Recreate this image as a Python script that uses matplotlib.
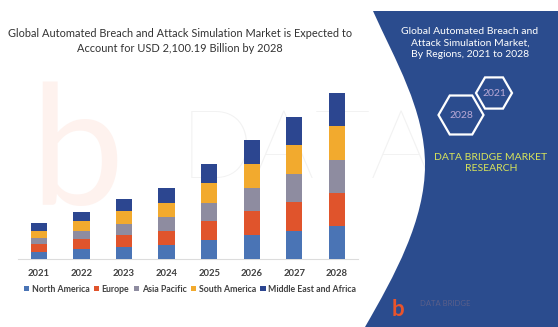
import numpy as np
import matplotlib
matplotlib.use("Agg")
import matplotlib.pyplot as plt
from matplotlib.path import Path
from matplotlib.patches import PathPatch, RegularPolygon

plt.rcParams['font.family'] = ['Lato', 'DejaVu Sans']

# data (USD billion)
years = ['2021', '2022', '2023', '2024', '2025', '2026', '2027', '2028']
regions = ['North America', 'Europe', 'Asia Pacific', 'South America', 'Middle East and Africa']
north_america = [96.6, 126.0, 151.2, 180.6, 243.6, 302.4, 357.0, 420.0]
europe = [92.4, 126.0, 155.4, 176.4, 239.4, 302.4, 361.2, 420.0]
asia_pacific = [79.8, 105.0, 138.6, 180.6, 231.0, 298.2, 357.0, 411.6]
south_america = [92.4, 121.8, 159.6, 176.4, 243.6, 294.0, 365.4, 428.4]
middle_east_africa = [92.4, 121.8, 151.2, 189.0, 243.6, 306.6, 357.0, 420.0]
colors = ['#4a74b5', '#e0542c', '#8e8ca0', '#f2aa2e', '#2c4690']

W, H = 558, 327
fig = plt.figure(figsize=(W / 100, H / 100), dpi=100)

# background layer in pixel coordinates
bg = fig.add_axes([0, 0, 1, 1])
bg.set_xlim(0, W)
bg.set_ylim(H, 0)
bg.axis('off')

# faint watermarks
bg.text(30, 205, 'b', fontsize=120, color='#fef2ee', fontweight='normal', zorder=0)
bg.text(180, 178, 'DATA', fontsize=70, color='#f2f2f2', fontweight='light', zorder=0)

# blue side panel with curved white cut
verts = [(373, 11), (558, 11), (558, 327), (365, 327),
         (395, 275), (425, 220), (425, 165),
         (425, 110), (395, 60), (373, 11), (373, 11)]
codes = [Path.MOVETO, Path.LINETO, Path.LINETO, Path.LINETO,
         Path.CURVE4, Path.CURVE4, Path.CURVE4,
         Path.CURVE4, Path.CURVE4, Path.CURVE4, Path.CLOSEPOLY]
bg.add_patch(PathPatch(Path(verts, codes), facecolor='#2b4c8e', edgecolor='none', zorder=1))

bg.text(470, 43, 'Global Automated Breach and\nAttack Simulation Market,\nBy Regions, 2021 to 2028',
        ha='center', va='center', color='white', fontsize=7.5, linespacing=1.35, zorder=2)

bg.add_patch(RegularPolygon((494, 93), 6, radius=18, orientation=np.pi / 6,
                            facecolor='none', edgecolor='white', lw=1.6, zorder=2))
bg.add_patch(RegularPolygon((461, 115), 6, radius=22.5, orientation=np.pi / 6,
                            facecolor='none', edgecolor='white', lw=1.6, zorder=2))
bg.text(494, 93, '2021', ha='center', va='center', color='#b9a9d6', fontsize=7.5, zorder=3)
bg.text(461, 115, '2028', ha='center', va='center', color='#b9a9d6', fontsize=7.5, zorder=3)

bg.text(491, 163, 'DATA BRIDGE MARKET\nRESEARCH', ha='center', va='center',
        color='#d8e45a', fontsize=7.5, linespacing=1.3, zorder=2)

# little logo at the bottom
bg.text(392, 316, 'b', fontsize=16, color='#e8542c', fontweight='bold', zorder=2)
bg.text(420, 304, 'DATA BRIDGE', fontsize=5.5, color='#5a5f8a', va='center', zorder=2)

# title
bg.text(180, 41, 'Global Automated Breach and Attack Simulation Market is Expected to\n'
        'Account for USD 2,100.19 Billion by 2028',
        ha='center', va='center', fontsize=7.9, color='#333333', linespacing=1.4, zorder=2)

# stacked bar chart
series = [north_america, europe, asia_pacific, south_america, middle_east_africa]
x = np.arange(len(years))
base_px, top_px = 259.3, 88.0
totals = np.sum(series, axis=0)
ymax = totals[-1] * (base_px - top_px) / (base_px - 92.7)
ax = fig.add_axes([18 / W, 1 - base_px / H, (358 - 18) / W, (base_px - top_px) / H])
ax.patch.set_alpha(0)
bottom = np.zeros(len(years))
for name, vals, c in zip(regions, series, colors):
    ax.bar(x, vals, 0.384, bottom=bottom, color=c, label=name, zorder=3)
    bottom += np.array(vals)
ax.set_xlim(-0.494, 7.5)
ax.set_ylim(0, ymax)
ax.set_yticks([])
for s in ['top', 'right', 'left']:
    ax.spines[s].set_visible(False)
ax.spines['bottom'].set_color('#dcdcdc')
ax.spines['bottom'].set_linewidth(0.8)
ax.set_xticks(x)
ax.set_xticklabels(years, fontsize=6.8, fontweight='bold', color='#404040')
ax.tick_params(axis='x', length=0, pad=7)

fig.legend(loc='center', bbox_to_anchor=(190 / W, 1 - 289 / H), ncol=5, frameon=False,
           handlelength=0.6, handleheight=0.6, handletextpad=0.3,
           columnspacing=0.5, borderaxespad=0, labelcolor='#404040',
           prop={'weight': 'bold', 'size': 6.3})

fig.savefig('out.png', dpi=100)
